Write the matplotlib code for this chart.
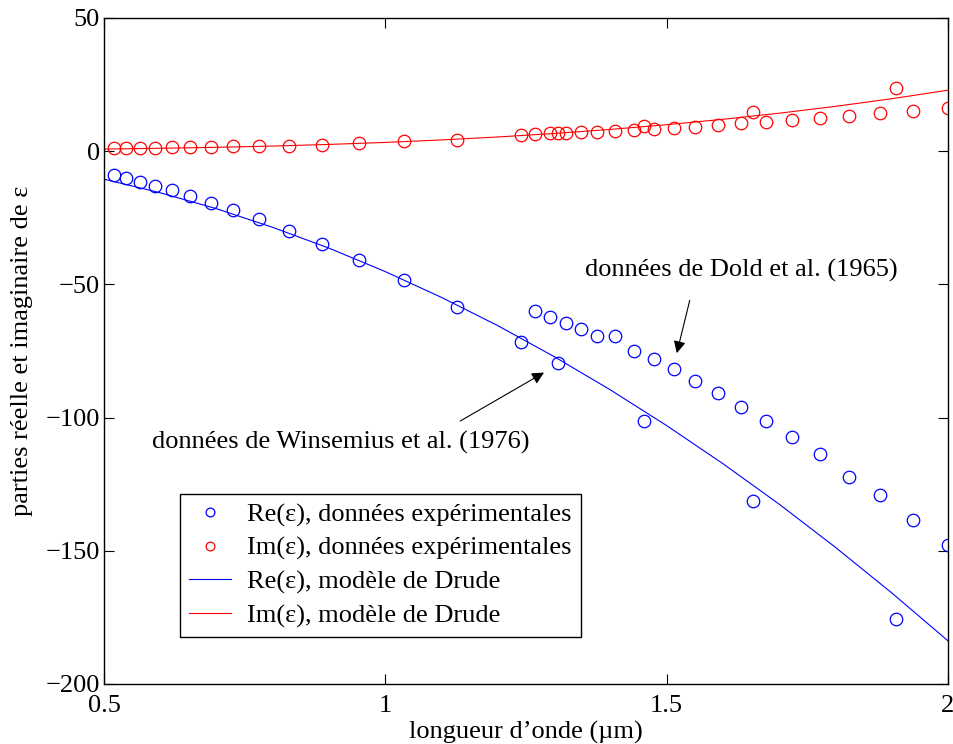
import matplotlib
matplotlib.use("Agg")
import matplotlib.pyplot as plt

# Experimental data (wavelength in µm)
lam_exp = [0.517, 0.539, 0.564, 0.591, 0.620, 0.653, 0.690, 0.730, 0.776, 0.828,
           0.887, 0.954, 1.034, 1.128, 1.241, 1.266, 1.292, 1.306, 1.321, 1.348,
           1.377, 1.409, 1.442, 1.460, 1.477, 1.513, 1.551, 1.591, 1.632, 1.654,
           1.676, 1.723, 1.772, 1.824, 1.880, 1.908, 1.938, 2.000]
re_exp = [-8.9, -10.2, -11.4, -13.1, -14.6, -16.8, -19.3, -22.0, -25.5, -29.8,
          -34.8, -40.8, -48.5, -58.4, -71.5, -60.0, -62.1, -79.4, -64.4, -66.7,
          -69.4, -69.4, -75.0, -101.3, -78.1, -81.8, -86.1, -90.8, -96.0, -131.3,
          -101.3, -107.4, -113.6, -122.3, -129.1, -175.6, -138.3, -147.8]
im_exp = [1.2, 1.2, 1.2, 1.2, 1.45, 1.6, 1.6, 1.8, 1.8, 2.1,
          2.5, 3.1, 3.7, 4.3, 6.1, 6.3, 6.7, 6.8, 6.8, 7.1,
          7.3, 7.6, 8.0, 9.6, 8.3, 8.7, 9.2, 9.8, 10.5, 14.7,
          11.0, 11.7, 12.5, 13.3, 14.2, 23.7, 15.2, 16.3]

# Drude model curves
lam_mod = [0.5, 0.6, 0.7, 0.8, 0.9, 1.0, 1.1, 1.2, 1.3, 1.4, 1.5, 1.6, 1.7, 1.8, 1.9, 2.0]
re_mod = [-10.5, -15.6, -21.6, -28.6, -36.4, -45.2, -54.9, -65.5, -77.1, -89.6,
          -103.0, -117.3, -132.5, -148.7, -165.8, -183.8]
im_mod = [0.8, 1.1, 1.46, 1.93, 2.54, 3.3, 4.23, 5.34, 6.65, 8.18,
          9.95, 11.97, 14.26, 16.83, 19.7, 22.9]

xticks = [0.5, 1, 1.5, 2]
xticklabels = ["0.5", "1", "1.5", "2"]
yticks = [-200, -150, -100, -50, 0, 50]
yticklabels = ["\u2212200", "\u2212150", "\u2212100", "\u221250", "0", "50"]

plt.rcParams['font.family'] = ['Liberation Serif', 'DejaVu Serif']
FS = 19

fig = plt.figure(figsize=(9.54, 7.44), dpi=100)
ax = fig.add_axes([104/954, 1-684/744, (948-104)/954, (684-18)/744])

ax.plot(lam_exp, re_exp, 'o', mfc='none', mec=(0, 0, 1), ms=9, mew=0.9,
        label="Re(\u03b5), données expérimentales")
ax.plot(lam_exp, im_exp, 'o', mfc='none', mec=(1, 0, 0), ms=9, mew=0.9,
        label="Im(\u03b5), données expérimentales")
ax.plot(lam_mod, re_mod, '-', color=(0, 0, 1), lw=0.8, label="Re(\u03b5), modèle de Drude")
ax.plot(lam_mod, im_mod, '-', color=(1, 0, 0), lw=0.8, label="Im(\u03b5), modèle de Drude")

ax.set_xlim(0.5, 2)
ax.set_ylim(-200, 50)
ax.set_xticks(xticks)
ax.set_xticklabels(xticklabels)
ax.set_yticks(yticks)
ax.set_yticklabels(yticklabels)
ax.tick_params(direction='in', length=7, width=0.8, top=True, right=True,
               labelsize=FS, pad=3)
ax.tick_params(axis='x', pad=8)
for s in ax.spines.values():
    s.set_linewidth(1.0)

ax.set_xlabel("longueur d\u2019onde (\u00b5m)", fontsize=FS, labelpad=3)
ax.set_ylabel("parties réelle et imaginaire de \u03b5", fontsize=FS, labelpad=9)

arrow_kw = dict(arrowstyle='-|>', color='black', lw=0.8,
                mutation_scale=18, shrinkA=0, shrinkB=0)
ax.text(1.355, -44.6, "données de Dold et al. (1965)", fontsize=FS,
        ha='left', va='center')
ax.annotate("", xy=(1.518, -75.8), xytext=(1.541, -56.0), arrowprops=arrow_kw)
ax.text(0.585, -109.5, "données de Winsemius et al. (1976)", fontsize=FS,
        ha='left', va='center')
ax.annotate("", xy=(1.282, -83.1), xytext=(1.133, -101.3), arrowprops=arrow_kw)

leg = ax.legend(loc='lower left', bbox_to_anchor=(0.090, 0.0706), borderaxespad=0,
                fontsize=FS, fancybox=False, framealpha=1, edgecolor='black',
                markerscale=0.7, handlelength=1.6, handletextpad=0.6,
                labelspacing=0.37, borderpad=0.35)
leg.get_frame().set_linewidth(1.0)

fig.savefig("out.png", dpi=100)
